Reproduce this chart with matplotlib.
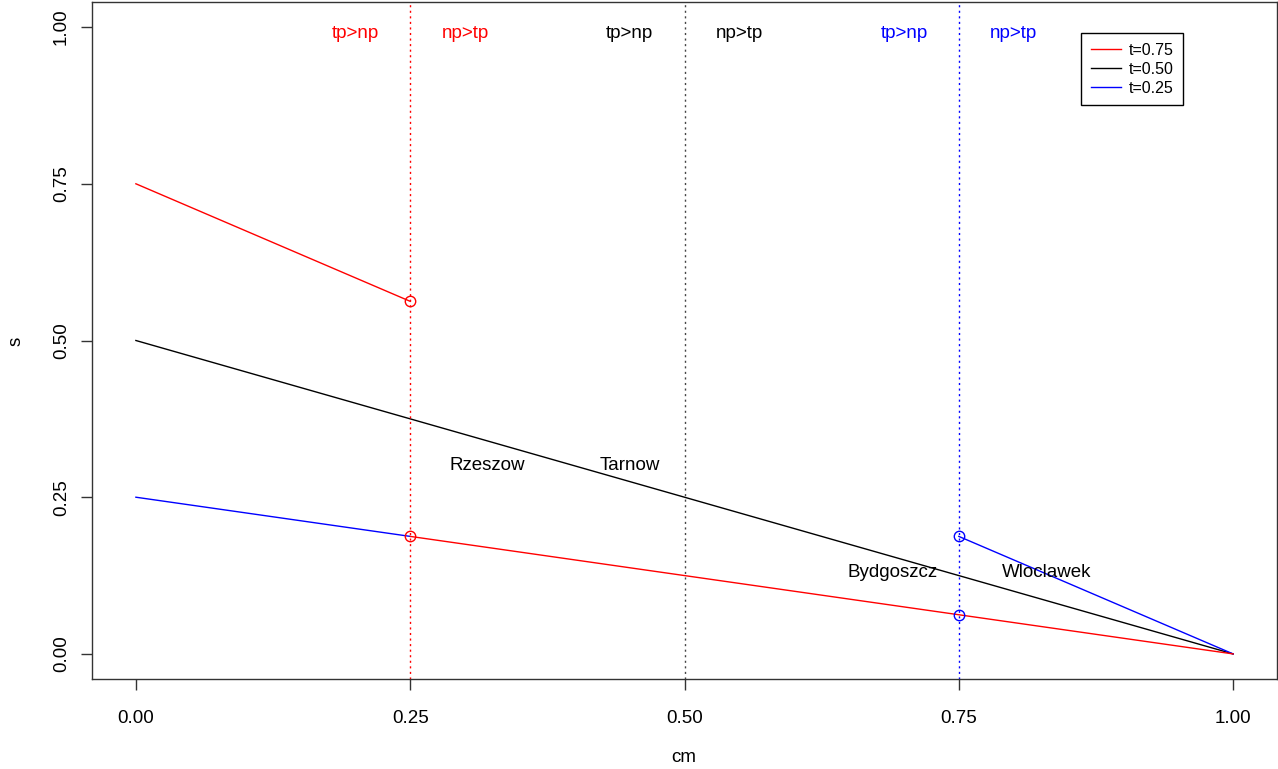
import numpy as np
import matplotlib.pyplot as plt
from matplotlib.lines import Line2D

plt.rcParams['font.family'] = ['Liberation Sans', 'DejaVu Sans']

# line segments
red_x1 = [0.0, 0.25]
red_y1 = [0.75, 0.5625]
red_x2 = [0.25, 1.0]
red_y2 = [0.1875, 0.0]
black_x = [0.0, 1.0]
black_y = [0.5, 0.0]
blue_x1 = [0.0, 0.25]
blue_y1 = [0.25, 0.1875]
blue_x2 = [0.75, 1.0]
blue_y2 = [0.1875, 0.0]

red_pts_x = [0.25, 0.25]
red_pts_y = [0.5625, 0.1875]
blue_pts_x = [0.75, 0.75]
blue_pts_y = [0.1875, 0.0625]

vlines = [0.25, 0.5, 0.75]
vline_cols = ['red', '#444444', 'blue']

region_x = [0.2, 0.3, 0.45, 0.55, 0.70, 0.80]
region_lab = ['tp>np', 'np>tp', 'tp>np', 'np>tp', 'tp>np', 'np>tp']
region_cols = ['red', 'red', 'black', 'black', 'blue', 'blue']

city_x = [0.32, 0.45, 0.69, 0.83]
city_y = [0.30, 0.30, 0.13, 0.13]
city_lab = ['Rzeszow', 'Tarnow', 'Bydgoszcz', 'Wloclawek']

ticks = [0.0, 0.25, 0.5, 0.75, 1.0]
tick_lab = ['0.00', '0.25', '0.50', '0.75', '1.00']

fs = 13.5

fig = plt.figure(figsize=(12.78, 7.69), dpi=100)
ax = fig.add_axes([92/1278, 90/769, 1185/1278, 677/769])

ax.plot(red_x1, red_y1, color='red', lw=1)
ax.plot(black_x, black_y, color='black', lw=1)
ax.plot(blue_x1, blue_y1, color='blue', lw=1)
ax.plot(blue_x2, blue_y2, color='blue', lw=1)
ax.plot(red_x2, red_y2, color='red', lw=1)

ax.plot(red_pts_x, red_pts_y, 'o', mfc='none', mec='red', ms=7.5, mew=1)
ax.plot(blue_pts_x, blue_pts_y, 'o', mfc='none', mec='blue', ms=7.5, mew=1)

for xv, c in zip(vlines, vline_cols):
    ax.axvline(xv, color=c, lw=1, ls=(0, (1.5, 2.5)))

for xv, lab, c in zip(region_x, region_lab, region_cols):
    ax.text(xv, 0.99, lab, color=c, fontsize=fs, ha='center', va='center')

for xv, yv, lab in zip(city_x, city_y, city_lab):
    ax.text(xv, yv, lab, fontsize=fs, ha='center', va='center')

ax.set_xlim(-0.04, 1.04)
ax.set_ylim(-0.04, 1.04)
ax.set_xticks(ticks)
ax.set_xticklabels(tick_lab)
ax.set_yticks(ticks)
ax.set_yticklabels(tick_lab, rotation=90, va='center')
ax.tick_params(labelsize=fs, length=8, width=1, color='#333333')
ax.tick_params(axis='x', pad=14)
ax.tick_params(axis='y', pad=8)
for sp in ax.spines.values():
    sp.set_color('#333333')
    sp.set_linewidth(1)

fig.text(684/1278, 1 - 758/769, 'cm', fontsize=fs, ha='center', va='center')
fig.text(16/1278, 1 - 341/769, 's', fontsize=fs, ha='center', va='center', rotation=90)

handles = [Line2D([], [], color='red', lw=1),
           Line2D([], [], color='black', lw=1),
           Line2D([], [], color='blue', lw=1)]
leg = ax.legend(handles, ['t=0.75', 't=0.50', 't=0.25'], loc='upper right',
                bbox_to_anchor=(0.9207, 0.954), borderaxespad=0, fontsize=11.5,
                fancybox=False, framealpha=1, edgecolor='black',
                handlelength=1.85, handletextpad=0.5, labelspacing=0.25,
                borderpad=0.6)
leg.get_frame().set_linewidth(1)

fig.savefig('out.png', dpi=100)
